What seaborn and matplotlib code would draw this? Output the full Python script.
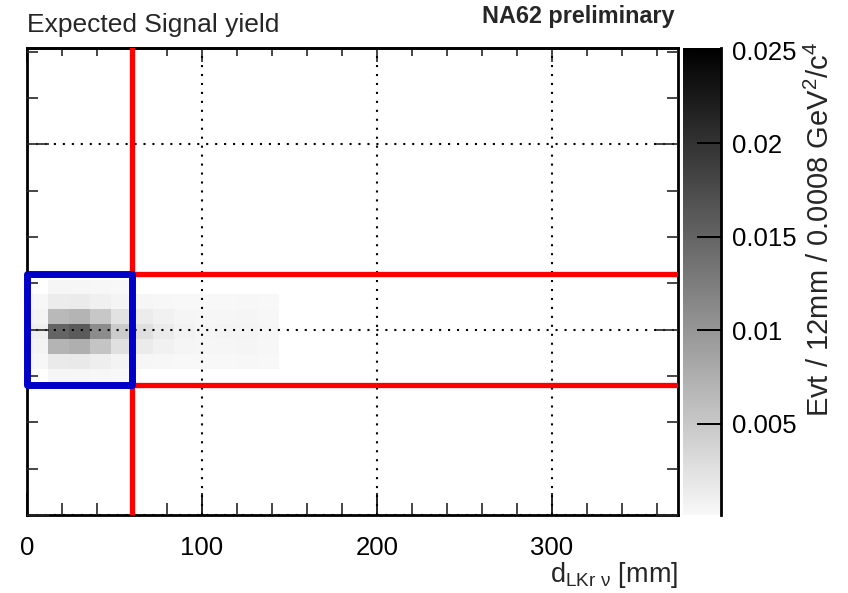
import numpy as np
import pandas as pd
import matplotlib
matplotlib.use("Agg")
import matplotlib.pyplot as plt
import seaborn as sns
from matplotlib.colors import LinearSegmentedColormap
from matplotlib.patches import Rectangle
from matplotlib.ticker import MultipleLocator, FixedLocator

# ---------------- data ----------------
# x: d_LKr-nu bin centres [mm] (12 mm bins)
d_centers = [6, 18, 30, 42, 54, 66, 78, 90, 102, 114, 126, 138]
# y: m2_miss bin centres [GeV^2/c^4] (0.0008 bins), top row first
m2_centers = [0.0023, 0.0015, 0.0007, -0.0001, -0.0009, -0.0017, -0.0025]
# expected signal yield per cell (rows follow m2_centers, cols follow d_centers)
yield_grid = [
    [0.0000, 0.0003, 0.0003, 0.0002, 0.0001, 0.0000, 0.0000, 0.0000, 0.0000, 0.0000, 0.0000, 0.0000],
    [0.0002, 0.0013, 0.0014, 0.0009, 0.0005, 0.0003, 0.0002, 0.0001, 0.0001, 0.0001, 0.0002, 0.0001],
    [0.0005, 0.0065, 0.0070, 0.0050, 0.0024, 0.0013, 0.0008, 0.0004, 0.0003, 0.0003, 0.0004, 0.0002],
    [0.0010, 0.0150, 0.0160, 0.0110, 0.0046, 0.0027, 0.0014, 0.0007, 0.0004, 0.0005, 0.0005, 0.0003],
    [0.0005, 0.0070, 0.0075, 0.0053, 0.0026, 0.0014, 0.0008, 0.0004, 0.0003, 0.0003, 0.0004, 0.0002],
    [0.0002, 0.0015, 0.0016, 0.0011, 0.0006, 0.0003, 0.0002, 0.0001, 0.0001, 0.0001, 0.0002, 0.0001],
    [0.0000, 0.0003, 0.0003, 0.0002, 0.0001, 0.0000, 0.0000, 0.0000, 0.0000, 0.0000, 0.0000, 0.0000],
]
x_tick_values = [0, 100, 200, 300]
cbar_tick_values = [0.005, 0.01, 0.015, 0.02, 0.025]
cbar_tick_labels = ["0.005", "0.01", "0.015", "0.02", "0.025"]

# selection cuts
d_cut = 60          # mm
m2_cut = 0.003      # GeV^2/c^4

# ---------------- layout constants ----------------
D_BIN = 12
M2_BIN = 0.0008
X_RANGE = (0, 372)
Y_RANGE = (-0.0100, 0.0152)
VMIN, VMAX = 0.0001, 0.02511

rows = []
for i, m2 in enumerate(m2_centers):
    for j, d in enumerate(d_centers):
        w = yield_grid[i][j]
        if w > 0:
            rows.append({"d": d, "m2": m2, "w": w})
df = pd.DataFrame(rows)

x_edges = np.arange(X_RANGE[0], X_RANGE[1] + D_BIN / 2, D_BIN)
yc = np.sort(np.array(m2_centers))
y_edges = np.append(yc - M2_BIN / 2, yc[-1] + M2_BIN / 2)

sns.set_style("ticks")
plt.rcParams["font.family"] = ["Liberation Sans", "DejaVu Sans"]
plt.rcParams["mathtext.fontset"] = "custom"
plt.rcParams["mathtext.rm"] = "Liberation Sans"
plt.rcParams["mathtext.it"] = "Liberation Sans:italic"
plt.rcParams["mathtext.bf"] = "Liberation Sans:bold"
plt.rcParams["axes.axisbelow"] = False

W, H = 848, 593
fig = plt.figure(figsize=(W / 100, H / 100), dpi=100)
ax_l, ax_r, ax_t, ax_b = 27, 678, 48, 515
ax = fig.add_axes([ax_l / W, 1 - ax_b / H, (ax_r - ax_l) / W, (ax_b - ax_t) / H])
cax = fig.add_axes([683 / W, 1 - ax_b / H, 38 / W, (ax_b - ax_t) / H])

cmap = LinearSegmentedColormap.from_list("root_grey", ["#f8f8f8", "#000000"])

sns.histplot(data=df, x="d", y="m2", weights="w", bins=(x_edges, y_edges),
             cmap=cmap, vmin=VMIN, vmax=VMAX, cbar=True, cbar_ax=cax, ax=ax)

ax.set_xlim(*X_RANGE)
ax.set_ylim(*Y_RANGE)
ax.set_xlabel("")
ax.set_ylabel("")

# grid (dotted, above the histogram)
ax.set_axisbelow(False)
ax.grid(True, which="major", color="black", linestyle=(0, (1, 3.3)), linewidth=1.5, zorder=2)

# ticks
ax.xaxis.set_major_locator(FixedLocator(x_tick_values))
ax.xaxis.set_minor_locator(MultipleLocator(20))
ax.yaxis.set_major_locator(MultipleLocator(0.01))
ax.yaxis.set_minor_locator(MultipleLocator(0.0025))
ax.tick_params(axis="x", which="major", direction="in", length=16, width=1.2,
               bottom=True, top=False, labelsize=18.5, pad=15, colors="black")
ax.tick_params(axis="x", which="minor", direction="in", length=9, width=1.2,
               bottom=True, top=False)
ax.tick_params(axis="y", which="major", direction="in", length=16, width=1.2,
               left=True, right=True, labelleft=False)
ax.tick_params(axis="y", which="minor", direction="in", length=8, width=1.2,
               left=True, right=True)
ax.set_xticklabels([str(v) for v in x_tick_values])

sec = ax.secondary_xaxis("top")
sec.xaxis.set_major_locator(FixedLocator(x_tick_values))
sec.xaxis.set_minor_locator(MultipleLocator(20))
sec.tick_params(which="major", direction="in", length=10, width=1.2, labeltop=False)
sec.tick_params(which="minor", direction="in", length=6, width=1.2)
sec.spines["top"].set_linewidth(2)

for s in ax.spines.values():
    s.set_visible(True)
    s.set_linewidth(2)
    s.set_color("black")

# selection cuts
ax.axvline(d_cut, color="#ff0000", linewidth=3.8, zorder=3)
ax.plot([d_cut, X_RANGE[1]], [m2_cut, m2_cut], color="#ff0000", linewidth=3.8, zorder=3,
        solid_capstyle="butt")
ax.plot([d_cut, X_RANGE[1]], [-m2_cut, -m2_cut], color="#ff0000", linewidth=3.8, zorder=3,
        solid_capstyle="butt")
ax.add_patch(Rectangle((0, -m2_cut), d_cut, 2 * m2_cut, fill=False, edgecolor="#0000c8",
                       linewidth=5, joinstyle="round", zorder=4, clip_on=False))

# colorbar styling
cbar = ax.collections[0].colorbar
cbar.outline.set_visible(False)
cbar.set_ticks(cbar_tick_values)
cbar.set_ticklabels(cbar_tick_labels)
cax.minorticks_off()
cax.set_axisbelow(False)
cax.tick_params(axis="y", which="major", direction="in", length=17, width=1.4,
                labelsize=18.5, pad=8, right=True, left=False, colors="black")
cax.spines["right"].set_visible(True)
cax.spines["right"].set_linewidth(2)
cax.spines["right"].set_color("black")

# texts
fig.text(27 / W, 1 - 32 / H, "Expected Signal yield", fontsize=19, ha="left", va="baseline")
fig.text(675 / W, 1 - 23 / H, "NA62 preliminary", fontsize=16.8, fontweight="bold",
         ha="right", va="baseline")
fig.text(678 / W, 1 - 582 / H, r"d$_{\mathrm{LKr\ ν}}$ [mm]", fontsize=19.5,
         ha="right", va="baseline")
fig.text(820 / W, 1 - 42 / H, r"Evt / 12mm / 0.0008 GeV$^{2}$/c$^{4}$", fontsize=21,
         rotation=90, ha="center", va="top")

fig.savefig("out.png", dpi=100)
